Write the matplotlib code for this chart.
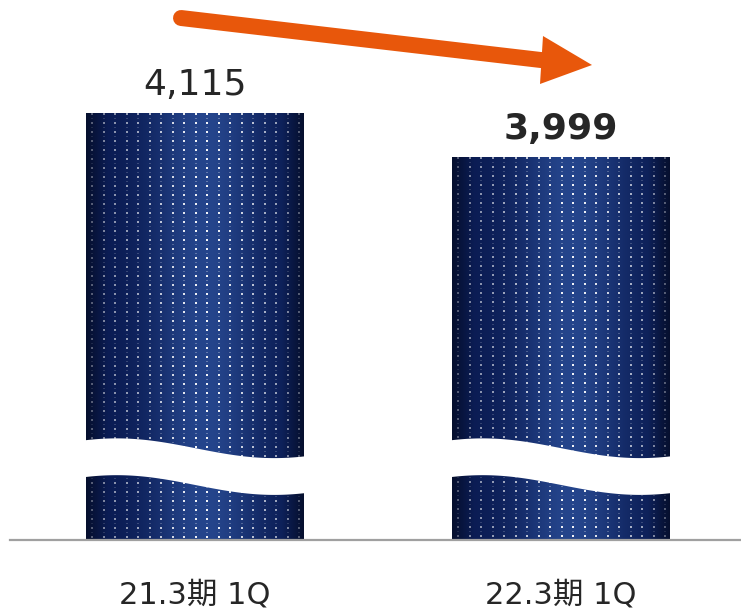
import numpy as np
import matplotlib.pyplot as plt
from matplotlib.colors import to_rgb

plt.rcParams['font.family'] = ['DejaVu Sans', 'Noto Sans CJK JP']

# quarterly figures
periods = ['21.3期 1Q', '22.3期 1Q']
sales = [4115, 3999]
value_labels = ['4,115', '3,999']
label_weights = ['normal', 'bold']

floor_val = 2990   # y axis is cut off below this value
x = np.arange(len(periods))
bar_w = 0.595

fig = plt.figure(figsize=(7.41, 6.09), dpi=100)
ax = fig.add_axes([0, 0, 1, 1])
ax.set_xlim(-0.533, 1.492)
ax.set_ylim(2807, 4412)
ax.axis('off')


def bar_texture(w, h):
    # navy cylinder shading with a grid of small white dots
    t = np.linspace(0, 1, w)
    dark = np.array(to_rgb('#0a1b52'))
    light = np.array(to_rgb('#25458c'))
    prof = np.exp(-((t - 0.55) / 0.25) ** 2)
    edge = np.clip(np.minimum(t, 1 - t) / 0.1, 0, 1)
    row = dark[None, :] * (1 - prof[:, None]) + light[None, :] * prof[:, None]
    row = row * (0.55 + 0.45 * edge[:, None])
    img = np.repeat(row[None, :, :], h, axis=0)

    jj = np.arange(w)
    ii = np.arange(h)
    col_on = ((jj - 5) % 11.5) < 2
    main_row = (ii % 9) < 2
    faint_row = ((ii + 4) % 9) < 1
    a = (0.5 + 0.45 * prof)[None, :] * (0.5 + 0.5 * edge[None, :])
    mask_main = main_row[:, None] & col_on[None, :]
    mask_faint = faint_row[:, None] & col_on[None, :]
    alpha = np.where(mask_main, a, 0) + np.where(mask_faint, a * 0.3, 0)
    img = img * (1 - alpha[..., None]) + alpha[..., None]
    return np.clip(img, 0, 1)


bars = ax.bar(x, np.array(sales) - floor_val, bottom=floor_val, width=bar_w,
              color='none', edgecolor='none', zorder=2)

for b in bars:
    x0, y0 = b.get_x(), b.get_y()
    x1, y1 = x0 + b.get_width(), y0 + b.get_height()
    p0 = ax.transData.transform((x0, y0))
    p1 = ax.transData.transform((x1, y1))
    w = int(round(p1[0] - p0[0]))
    h = int(round(p1[1] - p0[1]))
    im = ax.imshow(bar_texture(w, h), extent=(x0, x1, y0, y1), origin='upper',
                   interpolation='nearest', aspect='auto', zorder=2)
    im.set_clip_path(b)

    # wavy break across the bar
    t = np.linspace(0, 1, 200)
    s = -np.cos(2 * np.pi * (t - 0.15) / 1.4)
    gap_top = floor_val + 242 - 26 * s
    gap_bot = gap_top - 97
    xs = x0 - 0.01 + t * (x1 - x0 + 0.02)
    ax.fill_between(xs, gap_bot, gap_top, color='white', lw=0, zorder=3)

ax.set_xlim(-0.533, 1.492)
ax.set_ylim(2807, 4412)

# baseline
ax.axhline(floor_val, xmin=0.0135, xmax=1, color='#a0a0a0', lw=1.6, zorder=4)

for xi, v, lab, wt in zip(x, sales, value_labels, label_weights):
    ax.annotate(lab, (xi, v), xytext=(0, 13), textcoords='offset points',
                ha='center', va='baseline', fontsize=26, fontweight=wt,
                color='#262626')

for xi, p in zip(x, periods):
    ax.annotate(p, (xi, floor_val), xytext=(0, -46), textcoords='offset points',
                ha='center', va='baseline', fontsize=22, color='#262626')

# downward trend arrow (pixel positions, origin top-left)
H = 609.0
W = 741.0
start = (181, 18)
head_base = (541, 60)
tip = (592, 65)
c1 = (543, 36)
c2 = (540, 84)
orange = '#e8570b'
fig.add_artist(plt.Line2D([start[0] / W, (head_base[0] + 4) / W],
                          [1 - start[1] / H, 1 - (head_base[1] + 0.5) / H],
                          transform=fig.transFigure, color=orange, lw=11.5,
                          solid_capstyle='round', zorder=5))
fig.add_artist(plt.Polygon([[c1[0] / W, 1 - c1[1] / H],
                            [tip[0] / W, 1 - tip[1] / H],
                            [c2[0] / W, 1 - c2[1] / H]],
                           closed=True, transform=fig.transFigure,
                           color=orange, lw=0, zorder=5))

fig.savefig('out.png', dpi=100)
